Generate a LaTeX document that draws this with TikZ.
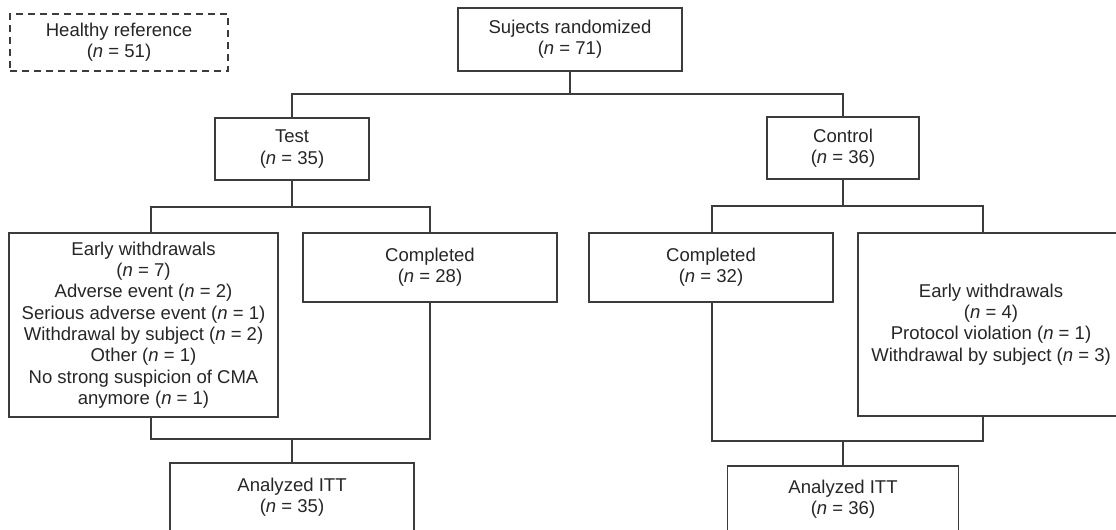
\documentclass[tikz,border=0pt]{standalone}
\usepackage{fontspec}
\setmainfont{Liberation Sans}
\begin{document}
\begin{tikzpicture}[x=0.75pt,y=-0.75pt,
  every node/.style={font=\fontsize{13.9pt}{16pt}\selectfont, align=center, inner sep=0pt},
  box/.style={draw=lc, line width=1.4pt, rectangle, text=black!85},
  dbox/.style={box, dash pattern=on 5.5pt off 3.5pt},
  conn/.style={draw=lc, line width=1.4pt}]
\definecolor{lc}{HTML}{3C3C3C}
\useasboundingbox (0,0) rectangle (1116,530);
\clip (0,0) rectangle (1116,530);
\fill[white] (0,0) rectangle (1116,530);
\newcommand{\nn}{\textit{n}}
\node[dbox, minimum width=218*0.75pt, minimum height=57*0.75pt] (healthy) at (119,42.5) {Healthy reference\\(\nn{} = 51)};
\node[box, minimum width=224*0.75pt, minimum height=63*0.75pt] (rand) at (570,39.5) {Sujects randomized\\(\nn{} = 71)};
\node[box, minimum width=154*0.75pt, minimum height=62*0.75pt] (test) at (292,149) {Test\\(\nn{} = 35)};
\node[box, minimum width=152*0.75pt, minimum height=62*0.75pt] (control) at (843,148) {Control\\(\nn{} = 36)};
\node[box, minimum width=269*0.75pt, minimum height=184*0.75pt] (ewl) at (143.5,325) {Early withdrawals\\(\nn{} = 7)\\Adverse event (\nn{} = 2)\\Serious adverse event (\nn{} = 1)\\Withdrawal by subject (\nn{} = 2)\\Other (\nn{} = 1)\\No strong suspicion of CMA\\anymore (\nn{} = 1)};
\node[box, minimum width=254*0.75pt, minimum height=69*0.75pt] (compl) at (430,267.5) {Completed\\(\nn{} = 28)};
\node[box, minimum width=244*0.75pt, minimum height=69*0.75pt] (compr) at (711,267.5) {Completed\\(\nn{} = 32)};
\node[box, minimum width=266*0.75pt, minimum height=183*0.75pt] (ewr) at (991,324.5) {Early withdrawals\\(\nn{} = 4)\\Protocol violation (\nn{} = 1)\\Withdrawal by subject (\nn{} = 3)};
\node[box, minimum width=244*0.75pt, minimum height=68*0.75pt] (itta) at (292,497) {Analyzed ITT\\(\nn{} = 35)};
\node[box, minimum width=231*0.75pt, minimum height=66*0.75pt] (ittb) at (843,499) {Analyzed ITT\\(\nn{} = 36)};
\coordinate (xl) at (151,0);
\coordinate (xc) at (430,0);
\coordinate (xcr) at (712,0);
\coordinate (xr) at (983,0);
\coordinate (j1) at (570,94);
\coordinate (j2) at (292,207);
\coordinate (j3) at (843,206);
\coordinate (j4) at (292,439);
\coordinate (j5) at (843,441);
\draw[conn] (rand.south) -- (j1);
\draw[conn] (test.north) |- (j1) -| (control.north);
\draw[conn] (test.south) -- (j2);
\draw[conn] (ewl.north -| xl) |- (j2) -| (compl.north -| xc);
\draw[conn] (control.south) -- (j3);
\draw[conn] (compr.north -| xcr) |- (j3) -| (ewr.north -| xr);
\draw[conn] (ewl.south -| xl) |- (j4) -| (compl.south -| xc);
\draw[conn] (j4) -- (itta.north);
\draw[conn] (compr.south -| xcr) |- (j5) -| (ewr.south -| xr);
\draw[conn] (j5) -- (ittb.north);
\end{tikzpicture}
\end{document}
